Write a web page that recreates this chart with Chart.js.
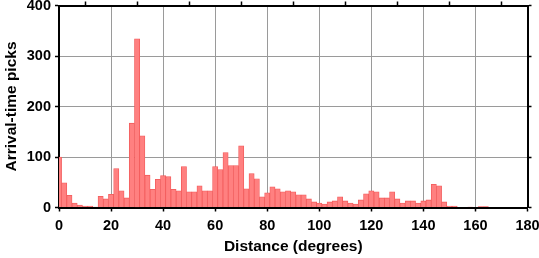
<!DOCTYPE html>
<html><head><meta charset="utf-8">
<script src="https://cdn.jsdelivr.net/npm/chart.js@4"></script>
<style>html,body{margin:0;padding:0;background:#fff}#wrap{width:539px;height:258px}</style>
</head><body><div id="wrap"><canvas id="c"></canvas></div>
<script>
// Bin centres (degrees), 2-degree bins
const binCenters = [0,2,4,6,8,10,12,14,16,18,20,22,24,26,28,30,32,34,36,38,40,42,44,46,48,50,52,54,56,58,60,62,64,66,68,70,72,74,76,78,80,82,84,86,88,90,92,94,96,98,100,102,104,106,108,110,112,114,116,118,120,122,124,126,128,130,132,134,136,138,140,142,144,146,148,150,152,154,156,158,160,162,164,166,168,170,172,174,176,178];
// Arrival-time picks per bin
const pickCounts = [100,49,24,9,5,3,3,1,22,17,26,77,33,19,167,334,142,64,36,56,63,61,36,33,81,31,31,43,33,33,81,75,109,83,83,122,37,67,57,21,29,41,37,31,33,31,25,25,17,11,9,7,11,13,21,13,9,7,15,27,33,31,19,19,31,17,9,13,13,9,13,15,46,43,11,3,3,0,0,1,0,2,2,0,0,0,0,0,0,0];
const xTickValues = [0,20,40,60,80,100,120,140,160,180];
const yTickValues = [0,100,200,300,400];

const FONT = "'Liberation Sans', Arial, Helvetica, sans-serif";
const tickFont = {family: FONT, size: 14.5, weight: 'bold'};
const titleFont = {family: FONT, size: 15.5, weight: 'bold'};
const gridGray = '#9a9a9a';

const setTicks = vals => s => { s.ticks = vals.map(v => ({value: v})); };
const fitTo = (prop, v) => s => {
  s[prop] = v;
  s.paddingLeft = 0; s.paddingRight = 0; s.paddingTop = 0; s.paddingBottom = 0;
};

new Chart(document.getElementById('c'), {
  type: 'bar',
  data: {
    datasets: [{
      data: binCenters.map((c, i) => ({x: c, y: pickCounts[i]})),
      backgroundColor: '#ff8080',
      borderColor: '#f25a5a',
      borderWidth: 0.8,
      borderSkipped: 'start',
      barPercentage: 1,
      categoryPercentage: 1
    }]
  },
  options: {
    responsive: true,
    maintainAspectRatio: false,
    animation: false,
    layout: {padding: 0},
    plugins: {legend: {display: false}, tooltip: {enabled: false}},
    scales: {
      x: {
        type: 'linear', position: 'bottom', min: 0, max: 180, offset: false,
        afterBuildTicks: setTicks(xTickValues),
        afterFit: fitTo('height', 50.5),
        grid: {offset: false, color: gridGray, lineWidth: 1, tickLength: 4, tickColor: '#000', tickWidth: 1.5},
        border: {display: true, color: '#000', width: 2},
        ticks: {font: tickFont, color: '#000', padding: 6, maxRotation: 0, autoSkip: false},
        title: {display: true, text: 'Distance (degrees)', font: titleFont, color: '#000', padding: {top: 0, bottom: 2}}
      },
      x2: {
        type: 'linear', position: 'top', min: 0, max: 180, offset: false,
        afterBuildTicks: setTicks(xTickValues),
        afterFit: fitTo('height', 5.5),
        grid: {drawOnChartArea: false, tickLength: 4, tickColor: '#000', tickWidth: 1.5, color: '#000'},
        border: {display: true, color: '#000', width: 2},
        ticks: {display: false}
      },
      y: {
        type: 'linear', position: 'left', min: 0, max: 400,
        afterBuildTicks: setTicks(yTickValues),
        afterFit: fitTo('width', 59),
        grid: {color: gridGray, lineWidth: 1, tickLength: 4, tickColor: '#000', tickWidth: 1.5},
        border: {display: true, color: '#000', width: 2},
        ticks: {font: tickFont, color: '#000', padding: 4},
        title: {display: true, text: 'Arrival-time picks', font: titleFont, color: '#000', padding: {top: 2, bottom: 0}}
      },
      y2: {
        type: 'linear', position: 'right', min: 0, max: 400,
        afterBuildTicks: setTicks(yTickValues),
        afterFit: fitTo('width', 11.5),
        grid: {drawOnChartArea: false, tickLength: 4, tickColor: '#000', tickWidth: 1.5, color: '#000'},
        border: {display: true, color: '#000', width: 2},
        ticks: {display: false}
      }
    }
  }
});
</script>
</body></html>
